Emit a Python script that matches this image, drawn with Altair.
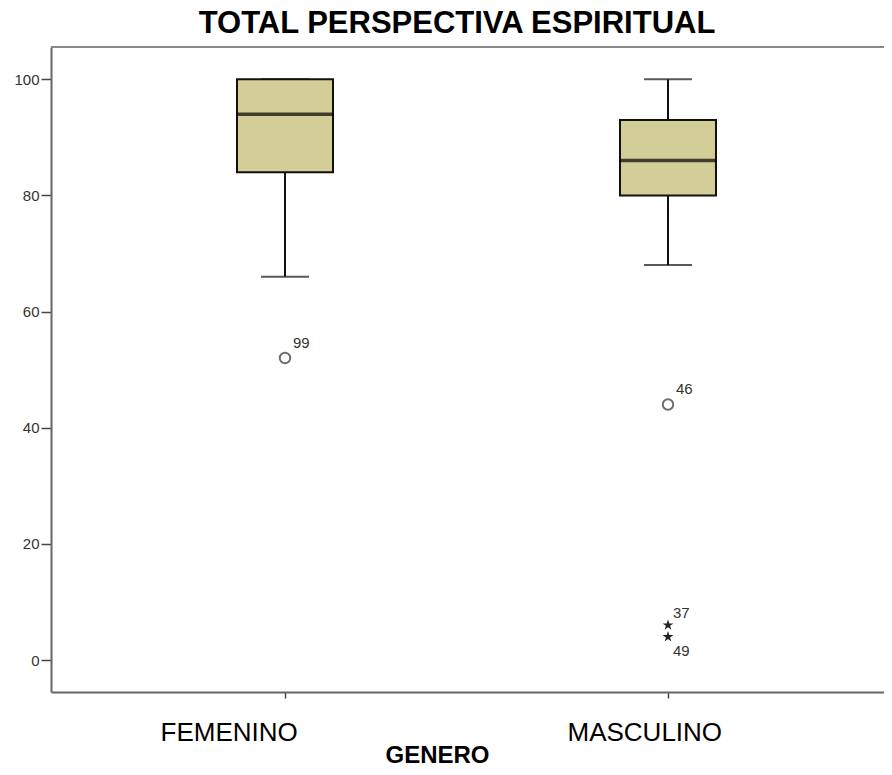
import altair as alt
import pandas as pd

# --- data ---
titulo = ["TOTAL PERSPECTIVA ESPIRITUAL"]
generos = ["FEMENINO", "MASCULINO"]
q1 = [84, 80]
mediana = [94, 86]
q3 = [100, 93]
bigote_inf = [66, 68]
bigote_sup = [100, 100]

atipicos_genero = ["FEMENINO", "MASCULINO"]
atipicos_valor = [52, 44]
atipicos_caso = ["99", "46"]

extremos_genero = ["MASCULINO", "MASCULINO"]
extremos_valor = [6, 4]
extremos_caso = ["37", "49"]
extremos_pos = ["arriba", "abajo"]

y_ticks = [0, 20, 40, 60, 80, 100]

cajas = pd.DataFrame({"genero": generos, "q1": q1, "mediana": mediana, "q3": q3,
                      "inf": bigote_inf, "sup": bigote_sup})
atip = pd.DataFrame({"genero": atipicos_genero, "valor": atipicos_valor, "caso": atipicos_caso})
extr = pd.DataFrame({"genero": extremos_genero, "valor": extremos_valor,
                     "caso": extremos_caso, "pos": extremos_pos})
tit = pd.DataFrame({"t": titulo})

W, H = 833, 645
FONT = "Liberation Sans"

x_enc = alt.X(
    "genero:N",
    sort=generos,
    scale=alt.Scale(type="point", padding=0.5875, align=0.52),
    axis=alt.Axis(
        title="GENERO", titleFontSize=24, titleFontWeight="bold", titleColor="black",
        titleFont=FONT, titleX=386, titleY=70, titleBaseline="alphabetic", titleAlign="center",
        labelFontSize=26, labelColor="black", labelFont=FONT, labelAngle=0,
        labelAlign="left", labelBaseline="alphabetic", labelPadding=42,
        labelOffset={"condition": {"test": "datum.value == 'FEMENINO'", "value": -125}, "value": -101},
        tickSize=6, tickColor="#444", tickWidth=1.5,
        domainColor="#666", domainWidth=2, grid=False,
    ),
)
y_scale = alt.Scale(domain=[-5.51, 105.56], nice=False, zero=False)
y_axis = alt.Axis(
    values=y_ticks, title=None, grid=False, labelFontSize=15, labelColor="#333",
    labelFont=FONT, tickSize=10, tickColor="#444", tickWidth=1.5, labelPadding=2,
    domainColor="#666", domainWidth=2,
)

base = alt.Chart(cajas)

bigote_bajo = base.mark_rule(color="#111", strokeWidth=2).encode(
    x=x_enc, y=alt.Y("inf:Q", scale=y_scale, axis=y_axis), y2="q1:Q")
bigote_alto = base.mark_rule(color="#111", strokeWidth=2).encode(
    x=x_enc, y=alt.Y("q3:Q", scale=y_scale, axis=y_axis), y2="sup:Q")
tapa_baja = base.mark_tick(color="#111", size=48, thickness=2).encode(
    x=x_enc, y=alt.Y("inf:Q", scale=y_scale, axis=y_axis))
tapa_alta = base.mark_tick(color="#111", size=48, thickness=2).encode(
    x=x_enc, y=alt.Y("sup:Q", scale=y_scale, axis=y_axis))
caja = base.mark_bar(size=96, fill="#d3ce97", stroke="#111", strokeWidth=2).encode(
    x=x_enc, y=alt.Y("q1:Q", scale=y_scale, axis=y_axis), y2="q3:Q")
med = base.mark_tick(color="#000", size=96, thickness=3.5).encode(
    x=x_enc, y=alt.Y("mediana:Q", scale=y_scale, axis=y_axis))

circulos = alt.Chart(atip).mark_point(shape="circle", size=110, filled=False,
                                      color="#333", strokeWidth=2).encode(
    x=x_enc, y=alt.Y("valor:Q", scale=y_scale, axis=y_axis))
circ_txt = alt.Chart(atip).mark_text(align="left", baseline="middle", dx=8, dy=-15,
                                     fontSize=15, color="#333", font=FONT).encode(
    x=x_enc, y=alt.Y("valor:Q", scale=y_scale, axis=y_axis), text="caso:N")

STAR = ("M0,-1L0.2245,-0.309L0.951,-0.309L0.363,0.118L0.588,0.809L0,0.382"
        "L-0.588,0.809L-0.363,0.118L-0.951,-0.309L-0.2245,-0.309Z")
estrellas = alt.Chart(extr).mark_point(shape=STAR, size=130, filled=True,
                                       color="#222", opacity=1).encode(
    x=x_enc, y=alt.Y("valor:Q", scale=y_scale, axis=y_axis))
estr_txt_a = alt.Chart(extr).transform_filter("datum.pos == 'arriba'").mark_text(
    align="left", baseline="middle", dx=5, dy=-12, fontSize=15, color="#333", font=FONT).encode(
    x=x_enc, y=alt.Y("valor:Q", scale=y_scale, axis=y_axis), text="caso:N")
estr_txt_b = alt.Chart(extr).transform_filter("datum.pos == 'abajo'").mark_text(
    align="left", baseline="middle", dx=5, dy=14, fontSize=15, color="#333", font=FONT).encode(
    x=x_enc, y=alt.Y("valor:Q", scale=y_scale, axis=y_axis), text="caso:N")

borde_sup = alt.Chart(cajas).mark_rule(color="#888", strokeWidth=2).encode(
    x=alt.value(0), x2=alt.value(W), y=alt.value(0))

titulo_txt = alt.Chart(tit).mark_text(
    align="center", baseline="alphabetic", fontSize=31, fontWeight="bold",
    font=FONT, color="black").encode(
    x=alt.value(406), y=alt.value(-14), text="t:N")

chart = alt.layer(
    bigote_bajo, bigote_alto, tapa_baja, tapa_alta, caja, med,
    circulos, circ_txt, estrellas, estr_txt_a, estr_txt_b, borde_sup, titulo_txt,
).properties(
    width=W, height=H,
    autosize=alt.AutoSizeParams(type="none"),
    padding={"left": 43, "top": 39, "right": 0, "bottom": 73},
).configure_view(fill="#f0f0f0", strokeWidth=0).configure(background="white")

chart.save("out.html", embed_options={"renderer": "svg", "actions": False})
